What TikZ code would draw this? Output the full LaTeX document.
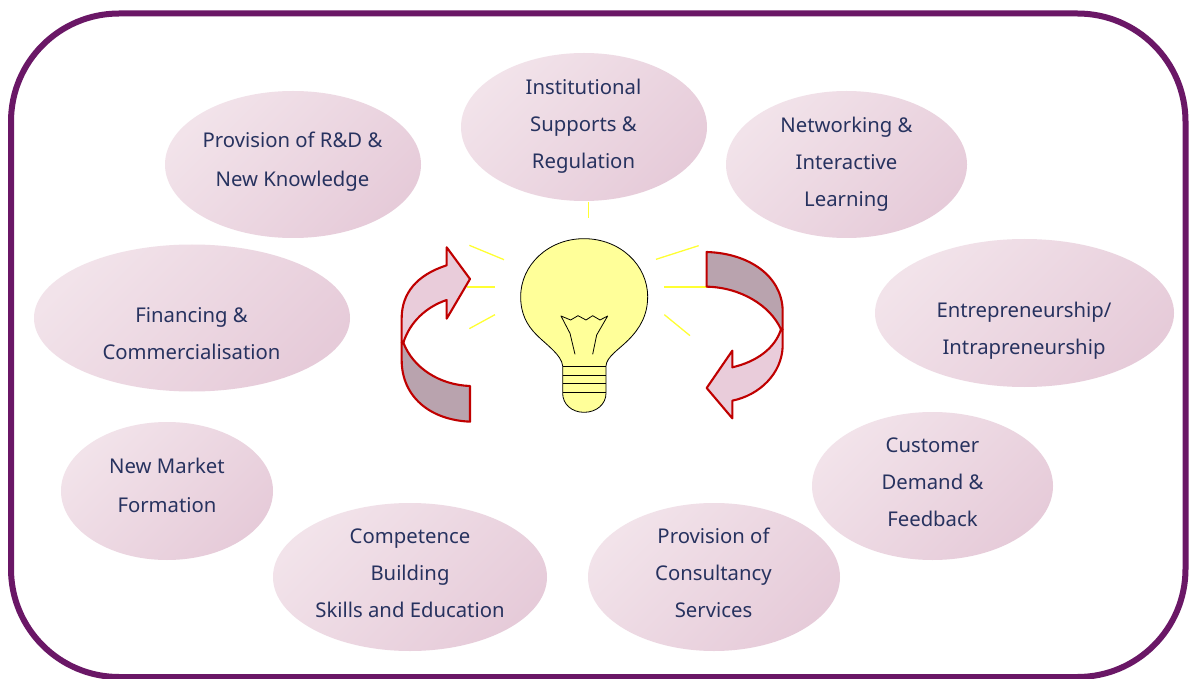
\documentclass[tikz,border=0pt]{standalone}
\usepackage{fontspec}
\setmainfont{Noto Sans}
\usetikzlibrary{shapes.geometric}
\definecolor{frame}{HTML}{6A1766}
\definecolor{txt}{HTML}{27325F}
\definecolor{ellA}{HTML}{F2E3EA}
\definecolor{ellB}{HTML}{E6CBD9}
\definecolor{arrL}{HTML}{E9CCDA}
\definecolor{arrD}{HTML}{B9A3AE}
\definecolor{arrR}{HTML}{C00000}
\definecolor{bulb}{HTML}{FFFF99}
\definecolor{ray}{HTML}{FFFF33}
\tikzset{
  bub/.style={ellipse,inner sep=0pt,outer sep=0pt,
    top color=ellA,bottom color=ellB,shading angle=45,
    minimum width=#1},
  lbl/.style={inner sep=0pt,align=center,text=txt,font=\fontsize{20.3}{37}\selectfont},
  rayline/.style={draw=ray,line width=1.3pt},
  arr/.style={draw=arrR,line width=2.1pt,line join=round},
  bulbline/.style={draw=black,line width=0.8pt,line join=round}
}
\begin{document}
\begin{tikzpicture}[x=1pt,y=-1pt]
\useasboundingbox (0,0) rectangle (1189,679);
\fill[white] (0,0) rectangle (1189,679);
\draw[frame,line width=6pt,rounded corners=108pt] (11,13.5) rectangle (1185.5,677);

\node[bub=256pt,minimum height=147pt] (rd) at (293,164.5) {};
\node[bub=246pt,minimum height=148pt] (inst) at (584,127) {};
\node[bub=241pt,minimum height=147pt] (net) at (846.5,164.5) {};
\node[bub=299pt,minimum height=148pt] (ent) at (1024.5,313) {};
\node[bub=241pt,minimum height=148pt] (cust) at (932.5,486) {};
\node[bub=252pt,minimum height=148pt] (cons) at (714,577) {};
\node[bub=274pt,minimum height=148pt] (comp) at (410,577) {};
\node[bub=212pt,minimum height=138pt] (mkt) at (167,491) {};
\node[bub=316pt,minimum height=147pt] (fin) at (192,318) {};

\node[lbl] (rdt) at (292.5,162) {Provision of R\&D \&\\[2pt]New Knowledge};
\node[lbl] (instt) at (583.5,126) {Institutional\\Supports \&\\Regulation};
\node[lbl] (nett) at (846.5,164) {Networking \&\\Interactive\\Learning};
\node[lbl] (entt) at (1024,331) {Entrepreneurship/\\Intrapreneurship};
\node[lbl] (custt) at (932.5,482) {Customer\\Demand \&\\Feedback};
\node[lbl] (const) at (713.5,573) {Provision of\\Consultancy\\Services};
\node[lbl] (compt) at (410,573) {Competence\\Building\\Skills and Education};
\node[lbl] (mktt) at (167,485) {New Market\\[2pt]Formation};
\node[lbl] (fint) at (191.5,334) {Financing \&\\Commercialisation};

\begin{scope}[shift={(380,190)},x=0.33333pt,y=-0.33333pt]
 \draw[rayline] (625,35)--(625,85);
 \draw[rayline] (268,166)--(372,209);
 \draw[rayline] (262,291)--(345,291);
 \draw[rayline] (268,416)--(345,374);
 \draw[rayline] (828,208)--(956,167);
 \draw[rayline] (853,291)--(985,291);
 \draw[rayline] (853,374)--(930,437);
 % left arrow
 \filldraw[arr,fill=arrL] (270,267)--(200,172)--(200,226)
   .. controls (110,255) and (65,310) .. (65,385)
   -- (65,458) -- (70,458)
   .. controls (90,395) and (140,350) .. (200,330)
   -- (200,386) -- cycle;
 \filldraw[arr,fill=arrD] (70,458)
   .. controls (100,535) and (180,585) .. (270,588)
   -- (270,695)
   .. controls (150,690) and (65,620) .. (65,510)
   -- (65,458) -- cycle;
 % right arrow
 \filldraw[arr,fill=arrD] (980,186) -- (980,290)
   .. controls (1080,292) and (1170,345) .. (1203,418)
   -- (1208,418) -- (1208,360)
   .. controls (1205,260) and (1110,190) .. (980,186) -- cycle;
 \filldraw[arr,fill=arrL] (980,594) -- (1057,482) -- (1057,532)
   .. controls (1130,515) and (1185,475) .. (1203,418)
   -- (1208,418) -- (1208,470)
   .. controls (1205,550) and (1140,615) .. (1057,632)
   -- (1057,685) -- cycle;
 % bulb
 \filldraw[bulbline,fill=bulb] (548,528)
   .. controls (545,495) and (500,465) .. (470,435)
   .. controls (440,405) and (422,370) .. (422,320)
   .. controls (422,225) and (505,146) .. (612,146)
   .. controls (720,146) and (803,225) .. (803,320)
   .. controls (803,375) and (780,415) .. (745,450)
   .. controls (715,480) and (680,500) .. (678,528)
   -- (678,610)
   .. controls (678,642) and (650,667) .. (612,667)
   .. controls (575,667) and (548,642) .. (548,610) -- cycle;
 \draw[bulbline] (548,528)--(678,528) (548,555)--(678,555) (548,581)--(678,581) (548,606)--(678,606);
 \draw[bulbline] (585,493) -- (570,430) -- (543,378) -- (572,390) -- (594,377) -- (618,390) -- (638,377) -- (660,390) -- (683,378) -- (650,435) -- (638,493);
\end{scope}
\end{tikzpicture}
\end{document}
